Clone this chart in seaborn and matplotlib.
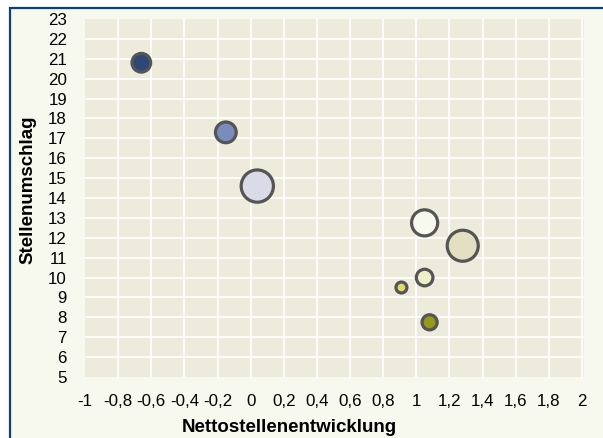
import matplotlib
matplotlib.use("Agg")
import matplotlib.pyplot as plt
import pandas as pd
import seaborn as sns
from matplotlib.patches import Rectangle

# bubble data
netto = [-0.66, -0.15, 0.04, 1.05, 1.28, 1.05, 0.91, 1.08]
umschlag = [20.8, 17.3, 14.6, 12.75, 11.6, 10.0, 9.5, 7.75]
gewicht = [85, 104, 250, 164, 231, 67, 30, 56]
gruppe = ["A", "B", "C", "D", "E", "F", "G", "H"]
farben = ["#2C4778", "#7A8CBD", "#DADBE9", "#F8F9EE",
          "#E2DFC3", "#EEEFC9", "#DCDC6A", "#979A16"]

xticks = [-1, -0.8, -0.6, -0.4, -0.2, 0, 0.2, 0.4, 0.6, 0.8, 1, 1.2, 1.4, 1.6, 1.8, 2]
xtick_labels = ["-1", "-0,8", "-0,6", "-0,4", "-0,2", "0", "0,2", "0,4", "0,6", "0,8",
                "1", "1,2", "1,4", "1,6", "1,8", "2"]
yticks = list(range(5, 24))

df = pd.DataFrame({"netto": netto, "umschlag": umschlag,
                   "gewicht": gewicht, "gruppe": gruppe})

sns.set_style("white")
plt.rcParams["font.family"] = ["Liberation Sans", "DejaVu Sans"]
plt.rcParams["text.color"] = "black"
plt.rcParams["axes.labelcolor"] = "black"

fig = plt.figure(figsize=(6.03, 4.38), dpi=100, facecolor="white")
# cream panel with blue frame (only left/top edges visible)
fig.patches.append(Rectangle((9.5 / 603, -0.2), 1.2, 1.2 - 7.5 / 438,
                             transform=fig.transFigure, facecolor="#F7F8EE",
                             edgecolor="#0B3F86", linewidth=1.6, zorder=-1))

ax = fig.add_axes([85 / 603, 1 - 377 / 438, 499 / 603, 358 / 438])
ax.set_facecolor("#ECEBDC")

sns.scatterplot(data=df, x="netto", y="umschlag", hue="gruppe", palette=farben,
                size="gewicht", sizes=(62, 540), size_norm=(30, 250),
                edgecolor="#555555", linewidth=2.3, alpha=1, legend=False,
                ax=ax, zorder=3)

ax.set_xlim(-1, 2.012)
ax.set_ylim(5, 23)
ax.set_xticks(xticks)
ax.set_xticklabels(xtick_labels)
ax.set_yticks(yticks)
ax.grid(True, color="white", linewidth=1.2)
ax.set_axisbelow(True)
for s in ax.spines.values():
    s.set_visible(False)
ax.tick_params(axis="both", length=0, labelsize=12.2, colors="black")
ax.tick_params(axis="x", pad=12)
ax.tick_params(axis="y", pad=13)

xt = ax.xaxis.get_major_ticks()
xt[0].gridline.set_visible(False)
yt = ax.yaxis.get_major_ticks()
yt[0].gridline.set_visible(False)
yt[-1].gridline.set_visible(False)

ax.set_xlabel("Nettostellenentwicklung", fontsize=13.5, fontweight="bold")
ax.set_ylabel("Stellenumschlag", fontsize=13.5, fontweight="bold")
ax.xaxis.set_label_coords(0.409, -0.142)
ax.yaxis.set_label_coords(-0.115, 0.522)
ax.xaxis.label.set_verticalalignment("center")
ax.yaxis.label.set_verticalalignment("center")

fig.savefig("out.png", dpi=100, facecolor=fig.get_facecolor())
